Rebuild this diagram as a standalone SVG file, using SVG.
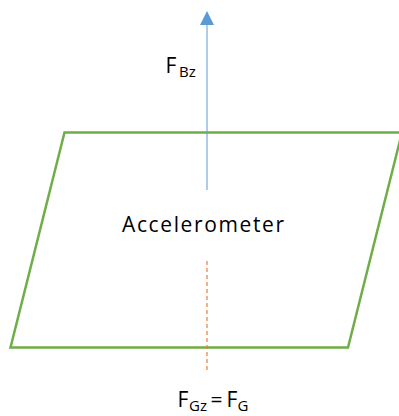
<svg xmlns="http://www.w3.org/2000/svg" width="399" height="416" viewBox="0 0 399 416">
<style>
.t{font-family:"Open Sans","Liberation Sans",sans-serif;fill:#000}
.big{font-size:21px}
.sub{font-size:15px}
</style>
<g id="accelerometer">
<polygon points="10.5,347.5 64.5,132.5 402,132.5 348,347.5" fill="none" stroke="#70ad47" stroke-width="2.5"/>
<text class="t big" x="122" y="232" font-size="20.5" textLength="162" lengthAdjust="spacing">Accelerometer</text>
</g>
<g id="connectors">
<line x1="207" y1="190" x2="207" y2="24" stroke="#5b9bd5" stroke-width="1"/>
<polygon points="200,25 207,11 214,25" fill="#5b9bd5"/>
<line x1="207" y1="261" x2="207" y2="372" stroke="#ed7d31" stroke-width="1.2" stroke-dasharray="4,3"/>
</g>
<g id="label-fbz">
<text class="t big" x="165.5" y="72.5">F</text>
<text class="t sub" x="179" y="76.5">Bz</text>
</g>
<g id="label-fgz">
<text class="t big" x="177.5" y="406.5">F</text>
<text class="t sub" x="189" y="411">Gz</text>
<text class="t big" x="210.5" y="406.5">=</text>
<text class="t big" x="226.5" y="406.5">F</text>
<text class="t sub" x="237.5" y="411">G</text>
</g>
</svg>
